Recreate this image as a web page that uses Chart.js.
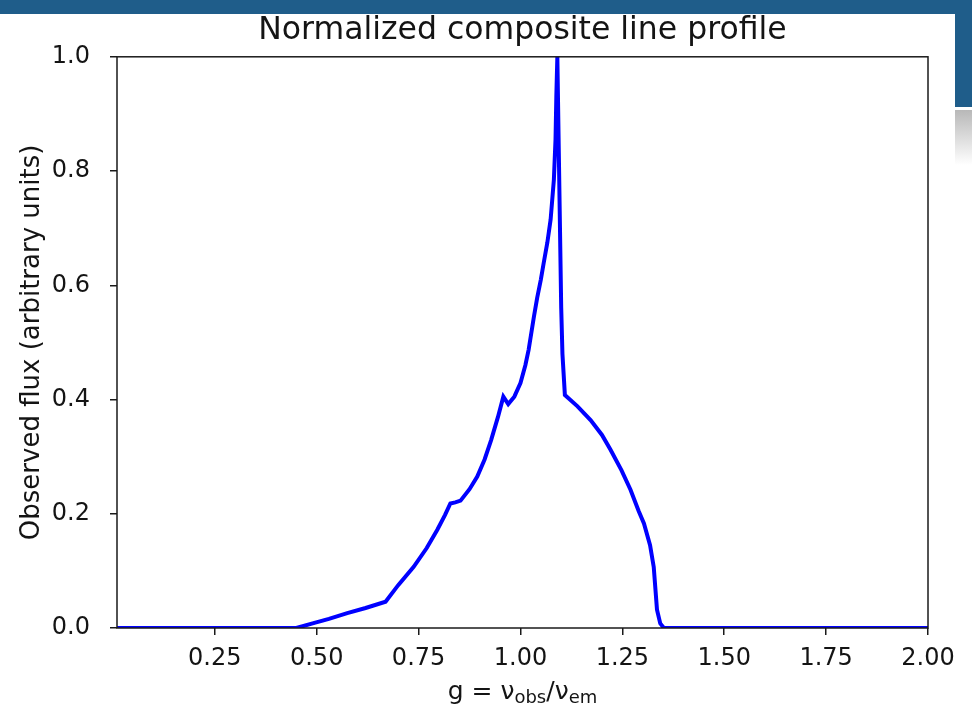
<!DOCTYPE html>
<html>
<head>
<meta charset="utf-8">
<title>Normalized composite line profile</title>
<script src="https://cdn.jsdelivr.net/npm/chart.js@4.4.1/dist/chart.umd.min.js"></script>
<style>
  html, body { margin: 0; padding: 0; background: #fff; }
  #wrap { position: relative; width: 972px; height: 708px; overflow: hidden; background: #fff; }
  /* slide decoration around the figure */
  .banner { position: absolute; left: 0; top: 0; width: 972px; height: 14px; background: #1f5d8a; }
  .strip { position: absolute; left: 955px; top: 0; width: 17px; height: 107px; background: #1f5d8a; }
  .shade { position: absolute; left: 955px; top: 110px; width: 17px; height: 55px; background: linear-gradient(#b8b8b8, #fff); }
  canvas { position: absolute; left: 0; top: 0; }
</style>
</head>
<body>
<div id="wrap">
  <div class="banner"></div>
  <div class="strip"></div>
  <div class="shade"></div>
  <canvas id="profileChart" width="972" height="708"></canvas>
</div>
<script>
// g = nu_obs / nu_em
const gValues = [0.01, 0.45, 0.49, 0.53, 0.575, 0.62, 0.669, 0.70, 0.738, 0.77,
  0.796, 0.815, 0.828, 0.84, 0.853, 0.875, 0.894, 0.912, 0.928, 0.945,
  0.958, 0.970, 0.985, 1.000, 1.012, 1.020, 1.033, 1.041, 1.050, 1.057,
  1.066, 1.074, 1.082, 1.086, 1.088, 1.0905, 1.100, 1.103, 1.109, 1.140,
  1.172, 1.200, 1.221, 1.248, 1.270, 1.290, 1.303, 1.318, 1.327, 1.335,
  1.343, 1.352, 2.0];
// observed flux (normalized)
const fluxValues = [0, 0, 0.008, 0.016, 0.026, 0.035, 0.046, 0.075, 0.107, 0.14,
  0.172, 0.198, 0.218, 0.220, 0.223, 0.243, 0.265, 0.295, 0.329, 0.37,
  0.405, 0.392, 0.405, 0.429, 0.460, 0.487, 0.545, 0.578, 0.610, 0.639,
  0.675, 0.715, 0.785, 0.855, 0.93, 1.0, 0.56, 0.48, 0.408, 0.388,
  0.364, 0.338, 0.312, 0.276, 0.242, 0.205, 0.183, 0.145, 0.107, 0.032,
  0.008, 0, 0];

const xTicks = [0.25, 0.5, 0.75, 1.0, 1.25, 1.5, 1.75, 2.0];
const yTicks = [0, 0.2, 0.4, 0.6, 0.8, 1.0];

const FONT = "'DejaVu Sans', 'Liberation Sans', sans-serif";
const TEXT = '#141414';

// box around the plot area, like matplotlib spines
const framePlugin = {
  id: 'frame',
  afterDatasetsDraw(chart) {
    const { ctx, chartArea: a } = chart;
    ctx.save();
    ctx.strokeStyle = '#1a1a1a';
    ctx.lineWidth = 1.5;
    ctx.strokeRect(a.left, a.top, a.right - a.left, a.bottom - a.top);
    ctx.restore();
  }
};

// x axis label with subscripts: g = ν_obs / ν_em
const xLabelPlugin = {
  id: 'xLabel',
  afterDraw(chart) {
    const { ctx, chartArea: a } = chart;
    const parts = [
      { t: 'g = ν', size: 25, dy: 0 },
      { t: 'obs', size: 18, dy: 4 },
      { t: '/ν', size: 25, dy: 0 },
      { t: 'em', size: 18, dy: 4 }
    ];
    ctx.save();
    ctx.fillStyle = TEXT;
    ctx.textBaseline = 'alphabetic';
    let total = 0;
    parts.forEach(p => {
      ctx.font = p.size + 'px ' + FONT;
      p.w = ctx.measureText(p.t).width;
      total += p.w;
    });
    let x = (a.left + a.right) / 2 - total / 2;
    const base = 699;
    parts.forEach(p => {
      ctx.font = p.size + 'px ' + FONT;
      ctx.fillText(p.t, x, base + p.dy);
      x += p.w;
    });
    ctx.restore();
  }
};

const ctx = document.getElementById('profileChart').getContext('2d');

const profileChart = new Chart(ctx, {
  type: 'line',
  data: {
    datasets: [{
      data: gValues.map((g, i) => ({ x: g, y: fluxValues[i] })),
      borderColor: '#0000ff',
      borderWidth: 4,
      pointRadius: 0,
      tension: 0,
      fill: false
    }]
  },
  options: {
    responsive: false,
    animation: false,
    layout: { padding: { top: 0, left: 0, right: 44, bottom: 0 } },
    plugins: {
      legend: { display: false },
      tooltip: { enabled: false },
      title: {
        display: true,
        fullSize: false, // centre over the plot area, not the canvas
        text: 'Normalized composite line profile',
        color: TEXT,
        font: { family: FONT, size: 31.5, weight: 'normal' },
        padding: { top: 12, bottom: 7 }
      }
    },
    scales: {
      x: {
        type: 'linear',
        min: 0.01,
        max: 2.0,
        afterBuildTicks: scale => { scale.ticks = xTicks.map(v => ({ value: v })); },
        afterFit: scale => { scale.height = 80; },
        grid: { drawOnChartArea: false, drawTicks: true, tickLength: 7, color: '#1a1a1a', lineWidth: 1.5 },
        border: { display: false },
        ticks: {
          color: TEXT,
          font: { family: FONT, size: 24 },
          padding: 9,
          maxRotation: 0,
          autoSkip: false,
          callback: v => Number(v).toFixed(2)
        }
      },
      y: {
        min: 0,
        max: 1,
        afterBuildTicks: scale => { scale.ticks = yTicks.map(v => ({ value: v })); },
        afterFit: scale => { scale.width = 117; },
        grid: { drawOnChartArea: false, drawTicks: true, tickLength: 7, color: '#1a1a1a', lineWidth: 1.5 },
        border: { display: false },
        title: {
          display: true,
          text: 'Observed flux (arbitrary units)',
          color: TEXT,
          font: { family: FONT, size: 26 },
          padding: { top: 17, bottom: 0 }
        },
        ticks: {
          color: TEXT,
          font: { family: FONT, size: 24 },
          padding: 20,
          callback: v => Number(v).toFixed(1)
        }
      }
    }
  },
  plugins: [framePlugin, xLabelPlugin]
});
</script>
</body>
</html>
